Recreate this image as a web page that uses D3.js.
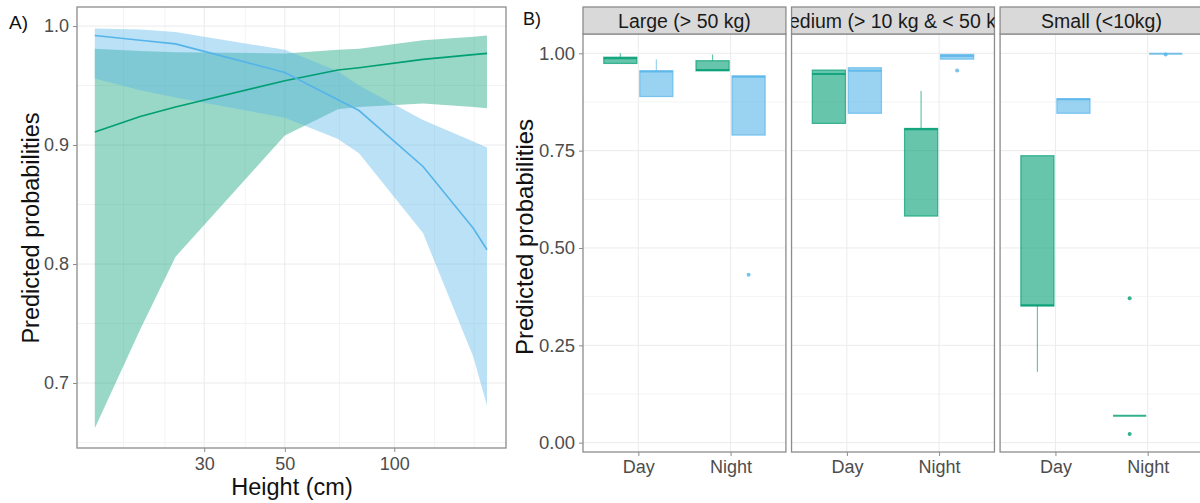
<!DOCTYPE html>
<html>
<head>
<meta charset="utf-8">
<script src="https://cdnjs.cloudflare.com/ajax/libs/d3/7.8.5/d3.min.js"></script>
<style>
  body { margin: 0; background: #fff; }
  svg { display: block; font-family: "Liberation Sans", Arial, sans-serif; }
</style>
</head>
<body>
<svg id="chart" width="1200" height="503"></svg>
<script>
// ---- panel A data: predicted probability vs height ----
const heights = [15, 20, 25, 50, 70, 80, 120, 165, 180];
const greenFit = [0.911, 0.924, 0.932, 0.954, 0.963, 0.965, 0.972, 0.976, 0.977];
const greenHi = [0.981, 0.979, 0.978, 0.977, 0.980, 0.981, 0.988, 0.991, 0.992];
const greenLo = [0.662, 0.745, 0.806, 0.908, 0.930, 0.932, 0.935, 0.932, 0.931];
const blueFit = [0.992, 0.988, 0.985, 0.961, 0.938, 0.929, 0.882, 0.830, 0.812];
const blueHi = [0.998, 0.997, 0.995, 0.980, 0.962, 0.950, 0.921, 0.903, 0.898];
const blueLo = [0.956, 0.946, 0.940, 0.923, 0.905, 0.893, 0.826, 0.722, 0.681];

const xTicksA = [30, 50, 100];
const xGridA = [18, 23.4, 30, 38.9, 50, 70.7, 100, 129, 166];
const yTicksA = [0.7, 0.8, 0.9, 1.0];
const yMinorA = [0.65, 0.75, 0.85, 0.95];

// ---- panel B data: box plots by size class and period ----
const sizeClasses = ['Large (> 50 kg)', 'Medium (> 10 kg & < 50 kg)', 'Small (<10kg)'];
const periods = ['Day', 'Night'];
const groups = ['green', 'blue'];
// [size, period, group, lowWhisker, q1, median, q3, highWhisker, outliers]
const boxStats = [
  ['Large (> 50 kg)', 'Day', 'green', 0.974, 0.974, 0.987, 0.990, 1.000, []],
  ['Large (> 50 kg)', 'Day', 'blue', 0.889, 0.889, 0.953, 0.955, 0.985, []],
  ['Large (> 50 kg)', 'Night', 'green', 0.955, 0.955, 0.957, 0.981, 0.997, []],
  ['Large (> 50 kg)', 'Night', 'blue', 0.790, 0.790, 0.940, 0.942, 0.942, [0.431]],
  ['Medium (> 10 kg & < 50 kg)', 'Day', 'green', 0.820, 0.820, 0.947, 0.957, 0.957, []],
  ['Medium (> 10 kg & < 50 kg)', 'Day', 'blue', 0.846, 0.846, 0.955, 0.963, 0.963, []],
  ['Medium (> 10 kg & < 50 kg)', 'Night', 'green', 0.582, 0.582, 0.805, 0.807, 0.903, []],
  ['Medium (> 10 kg & < 50 kg)', 'Night', 'blue', 0.985, 0.985, 0.993, 0.997, 0.997, [0.956]],
  ['Small (<10kg)', 'Day', 'green', 0.182, 0.351, 0.353, 0.737, 0.737, []],
  ['Small (<10kg)', 'Day', 'blue', 0.846, 0.846, 0.882, 0.883, 0.883, []],
  ['Small (<10kg)', 'Night', 'green', 0.069, 0.069, 0.069, 0.069, 0.069, [0.371, 0.022]],
  ['Small (<10kg)', 'Night', 'blue', 0.999, 0.999, 0.999, 0.999, 0.999, [0.997]]
];
const yTicksB = [0, 0.25, 0.5, 0.75, 1.0];
const yMinorB = [0.125, 0.375, 0.625, 0.875];

const colors = { green: '#009E73', blue: '#56B4E9' };
const borderCol = '#8c8c8c';
const gridMajor = '#ebebeb';
const gridMinor = '#f4f4f4';
const tickText = '#4d4d4d';

const svg = d3.select('#chart');

// ================= Panel A =================
const A = { left: 77, right: 506, top: 7, bottom: 448 };
const xA = d3.scaleLog().domain([13.4, 203]).range([A.left, A.right]);
const yA = d3.scaleLinear().domain([0.6454, 1.016]).range([A.bottom, A.top]);

const gA = svg.append('g');
gA.append('rect')
  .attr('x', A.left).attr('y', A.top)
  .attr('width', A.right - A.left).attr('height', A.bottom - A.top)
  .attr('fill', '#fff');

gA.selectAll('.yminor').data(yMinorA).enter().append('line')
  .attr('x1', A.left).attr('x2', A.right)
  .attr('y1', d => yA(d)).attr('y2', d => yA(d))
  .attr('stroke', gridMinor).attr('stroke-width', 1);
gA.selectAll('.xgrid').data(xGridA).enter().append('line')
  .attr('x1', d => xA(d)).attr('x2', d => xA(d))
  .attr('y1', A.top).attr('y2', A.bottom)
  .attr('stroke', d => xTicksA.includes(d) ? gridMajor : gridMinor).attr('stroke-width', 1);
gA.selectAll('.ymajor').data(yTicksA).enter().append('line')
  .attr('x1', A.left).attr('x2', A.right)
  .attr('y1', d => yA(d)).attr('y2', d => yA(d))
  .attr('stroke', gridMajor).attr('stroke-width', 1);

const rows = heights.map((h, i) => ({
  h, gf: greenFit[i], gl: greenLo[i], gh: greenHi[i],
  bf: blueFit[i], bl: blueLo[i], bh: blueHi[i]
}));

const areaG = d3.area().x(d => xA(d.h)).y0(d => yA(d.gl)).y1(d => yA(d.gh));
const areaB = d3.area().x(d => xA(d.h)).y0(d => yA(d.bl)).y1(d => yA(d.bh));
gA.append('path').datum(rows).attr('d', areaG)
  .attr('fill', colors.green).attr('fill-opacity', 0.4);
gA.append('path').datum(rows).attr('d', areaB)
  .attr('fill', colors.blue).attr('fill-opacity', 0.4);

gA.append('path').datum(rows)
  .attr('d', d3.line().x(d => xA(d.h)).y(d => yA(d.gf)))
  .attr('fill', 'none').attr('stroke', colors.green).attr('stroke-width', 1.6);
gA.append('path').datum(rows)
  .attr('d', d3.line().x(d => xA(d.h)).y(d => yA(d.bf)))
  .attr('fill', 'none').attr('stroke', colors.blue).attr('stroke-width', 1.6);

gA.append('rect')
  .attr('x', A.left).attr('y', A.top)
  .attr('width', A.right - A.left).attr('height', A.bottom - A.top)
  .attr('fill', 'none').attr('stroke', borderCol).attr('stroke-width', 1.3);

const axAx = gA.append('g').attr('transform', `translate(0,${A.bottom})`)
  .call(d3.axisBottom(xA).tickValues(xTicksA).tickFormat(d3.format('d')).tickSize(4).tickPadding(5));
const axAy = gA.append('g').attr('transform', `translate(${A.left},0)`)
  .call(d3.axisLeft(yA).tickValues(yTicksA).tickFormat(d3.format('.1f')).tickSize(4).tickPadding(4));
[axAx, axAy].forEach(ax => {
  ax.select('.domain').remove();
  ax.selectAll('line').attr('stroke', borderCol);
  ax.selectAll('text').attr('fill', tickText).style('font-size', '18px');
});

gA.append('text').attr('x', 292).attr('y', 495)
  .attr('text-anchor', 'middle').style('font-size', '23.5px').attr('fill', '#111')
  .text('Height (cm)');
gA.append('text')
  .attr('transform', 'translate(39,228) rotate(-90)')
  .attr('text-anchor', 'middle').style('font-size', '23.5px').attr('fill', '#111')
  .text('Predicted probabilities');
gA.append('text').attr('x', 9).attr('y', 29)
  .style('font-size', '19px').attr('fill', '#111').text('A)');

// ================= Panel B =================
const B = { top: 34, bottom: 452, stripTop: 7 };
const facetX = d3.scaleBand().domain(sizeClasses).range([583, 1203]).paddingInner(0.027);
const fw = facetX.bandwidth();
const xB = d3.scalePoint().domain(periods).range([0, fw]).padding(0.6);
const unit = xB.step();
const dodge = d3.scaleBand().domain(groups).range([-0.375 * unit, 0.375 * unit]).paddingInner(0.08);
const yB = d3.scaleLinear().domain([-0.024, 1.0496]).range([B.bottom, B.top]);

const gB = svg.append('g');
const defs = svg.append('defs');

sizeClasses.forEach((sc, fi) => {
  const x0 = facetX(sc);
  const g = gB.append('g').attr('transform', `translate(${x0},0)`);

  g.append('rect').attr('x', 0).attr('y', B.top).attr('width', fw).attr('height', B.bottom - B.top)
    .attr('fill', '#fff');
  g.selectAll('.ym').data(yMinorB).enter().append('line')
    .attr('x1', 0).attr('x2', fw).attr('y1', d => yB(d)).attr('y2', d => yB(d))
    .attr('stroke', gridMinor);
  g.selectAll('.yM').data(yTicksB).enter().append('line')
    .attr('x1', 0).attr('x2', fw).attr('y1', d => yB(d)).attr('y2', d => yB(d))
    .attr('stroke', gridMajor);
  g.selectAll('.xM').data(periods).enter().append('line')
    .attr('x1', d => xB(d)).attr('x2', d => xB(d)).attr('y1', B.top).attr('y2', B.bottom)
    .attr('stroke', gridMajor);

  const stats = boxStats.filter(b => b[0] === sc);
  stats.forEach(b => {
    const [, period, grp, lo, q1, med, q3, hi, outs] = b;
    const col = colors[grp];
    const cx = xB(period) + dodge(grp) + dodge.bandwidth() / 2;
    const bw = dodge.bandwidth();
    const bx = g.append('g');
    bx.append('line').attr('x1', cx).attr('x2', cx).attr('y1', yB(hi)).attr('y2', yB(q3))
      .attr('stroke', col).attr('stroke-opacity', 0.6).attr('stroke-width', 1.2);
    bx.append('line').attr('x1', cx).attr('x2', cx).attr('y1', yB(q1)).attr('y2', yB(lo))
      .attr('stroke', col).attr('stroke-opacity', 0.6).attr('stroke-width', 1.2);
    bx.append('rect').attr('x', cx - bw / 2).attr('y', yB(q3))
      .attr('width', bw).attr('height', Math.max(0, yB(q1) - yB(q3)))
      .attr('fill', col).attr('fill-opacity', 0.6)
      .attr('stroke', col).attr('stroke-opacity', 0.7).attr('stroke-width', 1.2);
    bx.append('line').attr('x1', cx - bw / 2).attr('x2', cx + bw / 2)
      .attr('y1', yB(med)).attr('y2', yB(med))
      .attr('stroke', col).attr('stroke-opacity', 0.8).attr('stroke-width', 2);
    bx.selectAll('circle').data(outs).enter().append('circle')
      .attr('cx', cx).attr('cy', d => yB(d)).attr('r', 2)
      .attr('fill', col).attr('fill-opacity', 0.8);
  });

  g.append('rect').attr('x', 0).attr('y', B.top).attr('width', fw).attr('height', B.bottom - B.top)
    .attr('fill', 'none').attr('stroke', borderCol).attr('stroke-width', 1.3);

  // strip
  defs.append('clipPath').attr('id', 'strip' + fi)
    .append('rect').attr('x', 0).attr('y', B.stripTop).attr('width', fw).attr('height', B.top - B.stripTop);
  g.append('rect').attr('x', 0).attr('y', B.stripTop).attr('width', fw).attr('height', B.top - B.stripTop)
    .attr('fill', '#d9d9d9').attr('stroke', borderCol).attr('stroke-width', 1.3);
  g.append('text').attr('clip-path', `url(#strip${fi})`)
    .attr('x', fw / 2).attr('y', 28).attr('text-anchor', 'middle')
    .style('font-size', '19.5px').attr('fill', '#1a1a1a').text(sc);

  const ax = g.append('g').attr('transform', `translate(0,${B.bottom})`)
    .call(d3.axisBottom(xB).tickSize(4).tickPadding(4));
  ax.select('.domain').remove();
  ax.selectAll('line').attr('stroke', borderCol);
  ax.selectAll('text').attr('fill', tickText).style('font-size', '18px');
});

const axBy = gB.append('g').attr('transform', `translate(${facetX(sizeClasses[0])},0)`)
  .call(d3.axisLeft(yB).tickValues(yTicksB).tickFormat(d3.format('.2f')).tickSize(4).tickPadding(4));
axBy.select('.domain').remove();
axBy.selectAll('line').attr('stroke', borderCol);
axBy.selectAll('text').attr('fill', tickText).style('font-size', '18.5px');

gB.append('text')
  .attr('transform', 'translate(533,237) rotate(-90)')
  .attr('text-anchor', 'middle').style('font-size', '24px').attr('fill', '#111')
  .text('Predicted probabilities');
gB.append('text').attr('x', 523).attr('y', 25)
  .style('font-size', '18px').attr('fill', '#111').text('B)');
</script>
</body>
</html>
